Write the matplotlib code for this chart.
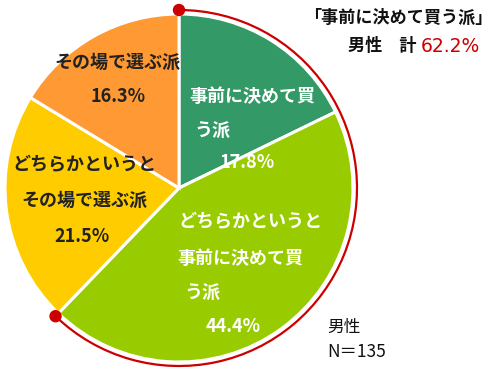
import matplotlib
matplotlib.use("Agg")
import matplotlib.pyplot as plt
from matplotlib.patches import Arc, Circle
import numpy as np

plt.rcParams['font.family'] = ['Noto Sans CJK JP', 'DejaVu Sans']

shares = [17.8, 44.4, 21.5, 16.3]
labels = [["事前に決めて買", "う派"],
          ["どちらかというと", "事前に決めて買", "う派"],
          ["どちらかというと", "その場で選ぶ派"],
          ["その場で選ぶ派"]]
colors = ['#339966', '#99cc00', '#ffcc00', '#ff9933']
text_colors = ['white', 'white', '#222222', '#222222']
total_label = "62.2%"
sample = "N＝135"

H = 373
fig = plt.figure(figsize=(5.0, 3.73), dpi=100)
ax = fig.add_axes([0, 0, 1, 1])

cx, cy, R = 179, H - 188, 174
ax.pie(shares, colors=colors, startangle=90, counterclock=False,
       center=(cx, cy), radius=R, frame=True,
       wedgeprops=dict(edgecolor='white', linewidth=2.2))
ax.set_xlim(0, 500)
ax.set_ylim(0, H)
ax.set_aspect('equal')
ax.axis('off')

# red arc around the two "buy in advance" slices
pre = shares[0] + shares[1]
end_ang = 90 - pre / 100 * 360
Ra = 178
ax.add_patch(Arc((cx, cy), 2 * Ra, 2 * Ra, theta1=end_ang, theta2=90,
                 color='#cc0000', lw=1.6, zorder=5))
for a in (90, end_ang):
    t = np.deg2rad(a)
    ax.add_patch(Circle((cx + Ra * np.cos(t), cy + Ra * np.sin(t)), 5.5,
                        color='#cc0000', zorder=6))

# slice labels: (x, y) pixel centres of each line, last line = percentage
positions = [
    [(252, 96), (212, 131), (247, 163)],
    [(250, 222), (240, 258), (202, 293), (233, 326)],
    [(84, 165), (84, 200), (82, 237)],
    [(117, 62), (118, 97)],
]
for i, lines in enumerate(labels):
    texts = lines + ["%.1f%%" % shares[i]]
    for txt, (x, y) in zip(texts, positions[i]):
        ax.text(x, H - y, txt, ha='center', va='center', fontsize=13,
                fontweight='bold', color=text_colors[i], zorder=7)

ax.text(398, H - 18, "「事前に決めて買う派」", ha='center', va='center',
        fontsize=12.3, fontweight='bold', color='#111111')
ax.text(416, H - 46, "男性　計", ha='right', va='center',
        fontsize=12.3, fontweight='bold', color='#111111')
ax.text(421, H - 46, total_label, ha='left', va='center',
        fontsize=13.5, color='#cc0000', family=['DejaVu Sans'])

ax.text(327, H - 327, "男性", ha='left', va='center', fontsize=12, color='#111111')
ax.text(327, H - 352, sample, ha='left', va='center', fontsize=12.5, color='#111111')

fig.savefig("out.png", dpi=100)
